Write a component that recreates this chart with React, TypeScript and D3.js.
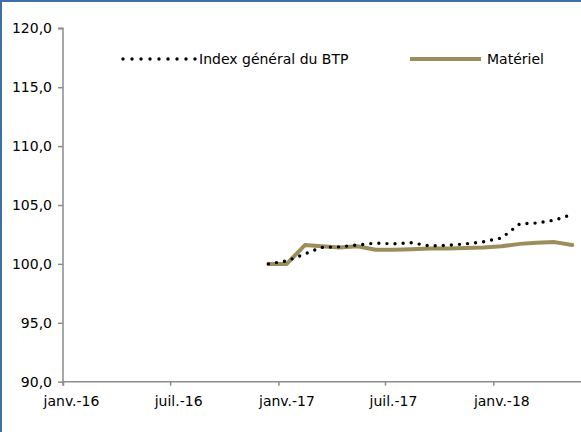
import React, { useEffect, useRef } from 'react';
import * as d3 from 'd3';

// monthly observations (plotted mid-month, as in the source chart)
const months = [
  '2016-12-15', '2017-01-15', '2017-02-15', '2017-03-15', '2017-04-15', '2017-05-15',
  '2017-06-15', '2017-07-15', '2017-08-15', '2017-09-15', '2017-10-15', '2017-11-15',
  '2017-12-15', '2018-01-15', '2018-02-15', '2018-03-15', '2018-04-15', '2018-05-15',
];
const indexBTP = [
  100.0, 100.25, 100.85, 101.4, 101.45, 101.6, 101.77, 101.7, 101.8, 101.52, 101.58, 101.7,
  101.88, 102.2, 103.4, 103.47, 103.72, 104.2,
];
const materiel = [
  100.0, 100.0, 101.6, 101.5, 101.4, 101.5, 101.2, 101.2, 101.25, 101.3, 101.3, 101.35,
  101.4, 101.5, 101.7, 101.8, 101.85, 101.6,
];
const yTicks = [90, 95, 100, 105, 110, 115, 120];
const xTicks = ['2016-01-01', '2016-07-01', '2017-01-01', '2017-07-01', '2018-01-01'];
const seriesNames = ['Index général du BTP', 'Matériel'];

const W = 581, H = 432;
const font = '"DejaVu Sans", Verdana, sans-serif';
const olive = '#9b8e5c';

function Chart() {
  const ref = useRef<SVGSVGElement>(null);

  useEffect(() => {
    const svg = d3.select(ref.current);
    svg.selectAll('*').remove();

    const parse = d3.timeParse('%Y-%m-%d');
    const dates = months.map((m) => parse(m) as Date);

    // Jan 2016 -> 63px, Jan 2018 -> 493px
    const x = d3.scaleTime()
      .domain([parse('2016-01-01') as Date, parse('2018-01-01') as Date])
      .range([63, 493.3]);
    const y = d3.scaleLinear().domain([90, 120]).range([381.7, 28.3]);

    svg.append('rect').attr('width', W).attr('height', H).attr('fill', '#fff');
    svg.append('rect')
      .attr('x', 1).attr('y', 1).attr('width', W + 20).attr('height', H + 20)
      .attr('fill', 'none').attr('stroke', '#3f6fa8').attr('stroke-width', 2);

    const axisColor = '#8c8c8c';

    // y axis
    const gy = svg.append('g').attr('transform', 'translate(63,0)');
    gy.call(d3.axisLeft(y).tickValues(yTicks).tickSize(5).tickPadding(6)
      .tickFormat((d) => d3.format('.1f')(d as number).replace('.', ',')));
    gy.select('.domain').attr('stroke', axisColor).attr('stroke-width', 1.5)
      .attr('d', `M-5,${y(120)}H0V${y(90) + 4}`);
    gy.selectAll('.tick line').attr('stroke', axisColor).attr('stroke-width', 1.5);
    gy.selectAll('.tick text').attr('font-family', font).attr('font-size', 14).attr('fill', '#000');

    // x axis
    const gx = svg.append('g').attr('transform', `translate(0,${y(90)})`);
    gx.call(d3.axisBottom(x).tickValues(xTicks.map((t) => parse(t) as Date)).tickSize(4)
      .tickFormat((d) => {
        const dt = d as Date;
        const m = dt.getMonth() === 0 ? 'janv.' : 'juil.';
        return `${m}-${String(dt.getFullYear()).slice(2)}`;
      }));
    gx.select('.domain').attr('stroke', axisColor).attr('stroke-width', 1.5)
      .attr('d', `M63,0H${W}`);
    gx.selectAll('.tick line').attr('stroke', axisColor).attr('stroke-width', 1.5);
    gx.selectAll('.tick text').attr('font-family', font).attr('font-size', 14).attr('fill', '#000')
      .attr('x', 8).attr('y', 14);

    const line = d3.line<number>()
      .x((_, i) => x(dates[i]))
      .y((d) => y(d));

    svg.append('path').datum(materiel)
      .attr('fill', 'none').attr('stroke', olive).attr('stroke-width', 4)
      .attr('stroke-linejoin', 'round').attr('stroke-linecap', 'round')
      .attr('d', line);

    svg.append('path').datum(indexBTP)
      .attr('fill', 'none').attr('stroke', '#000').attr('stroke-width', 3.4)
      .attr('stroke-dasharray', '0 8.1').attr('stroke-linecap', 'round')
      .attr('d', line);

    // legend
    const lg = svg.append('g');
    lg.append('line').attr('x1', 123).attr('x2', 196).attr('y1', 59).attr('y2', 59)
      .attr('stroke', '#000').attr('stroke-width', 3.4)
      .attr('stroke-dasharray', '0 9').attr('stroke-linecap', 'round');
    lg.append('text').attr('x', 199).attr('y', 64).text(seriesNames[0])
      .attr('font-family', font).attr('font-size', 14);
    lg.append('line').attr('x1', 410).attr('x2', 481).attr('y1', 59).attr('y2', 59)
      .attr('stroke', olive).attr('stroke-width', 4);
    lg.append('text').attr('x', 487).attr('y', 64).text(seriesNames[1])
      .attr('font-family', font).attr('font-size', 14);
  }, []);

  return <svg ref={ref} width={W} height={H} style={{ position: 'absolute', left: 0, top: 0 }} />;
}

export default function App() {
  return <Chart />;
}
